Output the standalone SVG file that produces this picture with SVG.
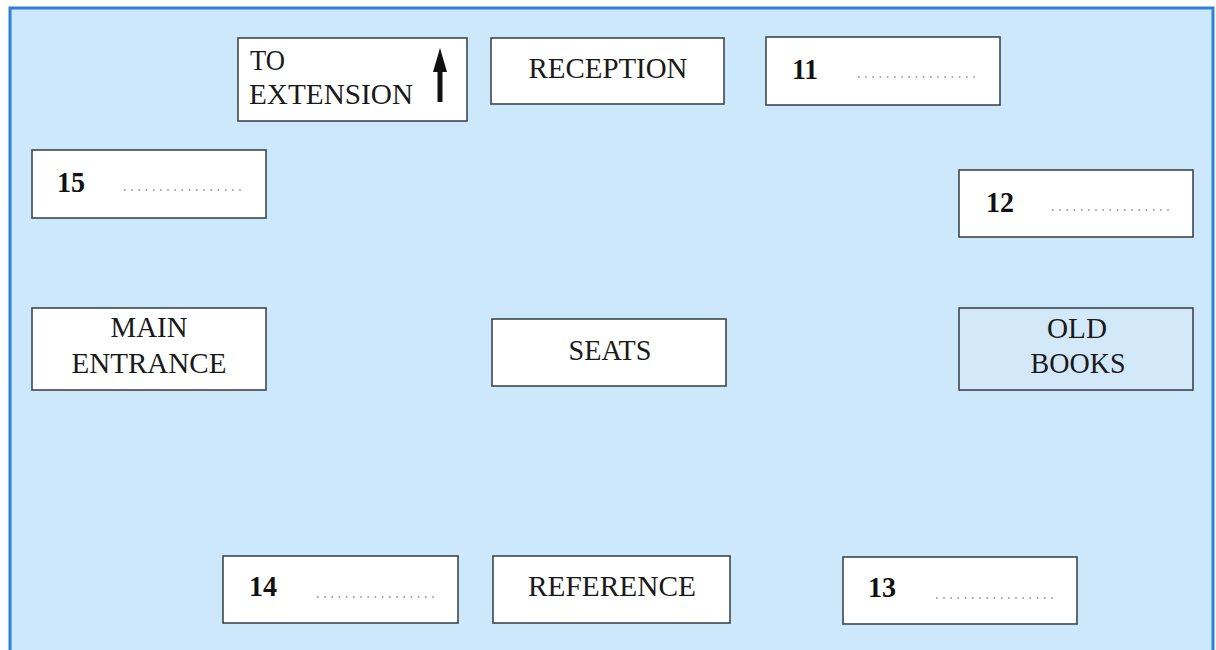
<svg xmlns="http://www.w3.org/2000/svg" width="1216" height="650" viewBox="0 0 1216 650">
<style>
.box{fill:#ffffff;stroke:#3c4650;stroke-width:1.6}
.box2{fill:#d3e9fa;stroke:#3c4650;stroke-width:1.6}
.t{font-family:"Liberation Serif","Times New Roman",serif;font-size:29px;fill:#1a1a1a}
.n{font-family:"Liberation Serif","Times New Roman",serif;font-size:29px;font-weight:bold;fill:#111}
.mid{text-anchor:middle}
.dots{stroke:#8a8f95;stroke-width:1.6;stroke-dasharray:1.6 5.6;fill:none}
</style>
<rect x="0" y="0" width="1216" height="650" fill="#ffffff"/>
<rect x="10" y="8" width="1203" height="660" fill="#cde7fb" stroke="#2f80d8" stroke-width="3"/>
<g id="connectors"></g>
<g id="to-extension">
<rect class="box" x="238" y="38" width="229" height="83"/>
<text class="t" x="250" y="70" textLength="35" lengthAdjust="spacingAndGlyphs">TO</text>
<text class="t" x="249" y="104" textLength="164" lengthAdjust="spacingAndGlyphs">EXTENSION</text>
<line x1="440" y1="102" x2="440" y2="66" stroke="#111" stroke-width="5"/>
<polygon points="440,48 433,72 447,72" fill="#111"/>
</g>
<g id="reception">
<rect class="box" x="491" y="38" width="233" height="66"/>
<text class="t mid" x="608" y="78" textLength="159" lengthAdjust="spacingAndGlyphs">RECEPTION</text>
</g>
<g id="q11">
<rect class="box" x="766" y="37" width="234" height="68"/>
<text class="n" x="792" y="79" textLength="26" lengthAdjust="spacingAndGlyphs">11</text>
<line class="dots" x1="858" y1="77" x2="976" y2="77"/>
</g>
<g id="q15">
<rect class="box" x="32" y="150" width="234" height="68"/>
<text class="n" x="57" y="192" textLength="28" lengthAdjust="spacingAndGlyphs">15</text>
<line class="dots" x1="124" y1="190" x2="242" y2="190"/>
</g>
<g id="q12">
<rect class="box" x="959" y="170" width="234" height="67"/>
<text class="n" x="986" y="212" textLength="28" lengthAdjust="spacingAndGlyphs">12</text>
<line class="dots" x1="1052" y1="210" x2="1170" y2="210"/>
</g>
<g id="main-entrance">
<rect class="box" x="32" y="308" width="234" height="82"/>
<text class="t mid" x="149" y="337" textLength="77" lengthAdjust="spacingAndGlyphs">MAIN</text>
<text class="t mid" x="149" y="373" textLength="155" lengthAdjust="spacingAndGlyphs">ENTRANCE</text>
</g>
<g id="seats">
<rect class="box" x="492" y="319" width="234" height="67"/>
<text class="t mid" x="610" y="360" textLength="83" lengthAdjust="spacingAndGlyphs">SEATS</text>
</g>
<g id="old-books">
<rect class="box2" x="959" y="308" width="234" height="82"/>
<text class="t mid" x="1077" y="338" textLength="60" lengthAdjust="spacingAndGlyphs">OLD</text>
<text class="t mid" x="1078" y="373" textLength="95" lengthAdjust="spacingAndGlyphs">BOOKS</text>
</g>
<g id="q14">
<rect class="box" x="223" y="556" width="235" height="67"/>
<text class="n" x="249" y="596" textLength="28" lengthAdjust="spacingAndGlyphs">14</text>
<line class="dots" x1="317" y1="597" x2="434" y2="597"/>
</g>
<g id="reference">
<rect class="box" x="493" y="556" width="237" height="67"/>
<text class="t mid" x="612" y="596" textLength="168" lengthAdjust="spacingAndGlyphs">REFERENCE</text>
</g>
<g id="q13">
<rect class="box" x="843" y="557" width="234" height="67"/>
<text class="n" x="868" y="597" textLength="28" lengthAdjust="spacingAndGlyphs">13</text>
<line class="dots" x1="936" y1="598" x2="1054" y2="598"/>
</g>
</svg>
